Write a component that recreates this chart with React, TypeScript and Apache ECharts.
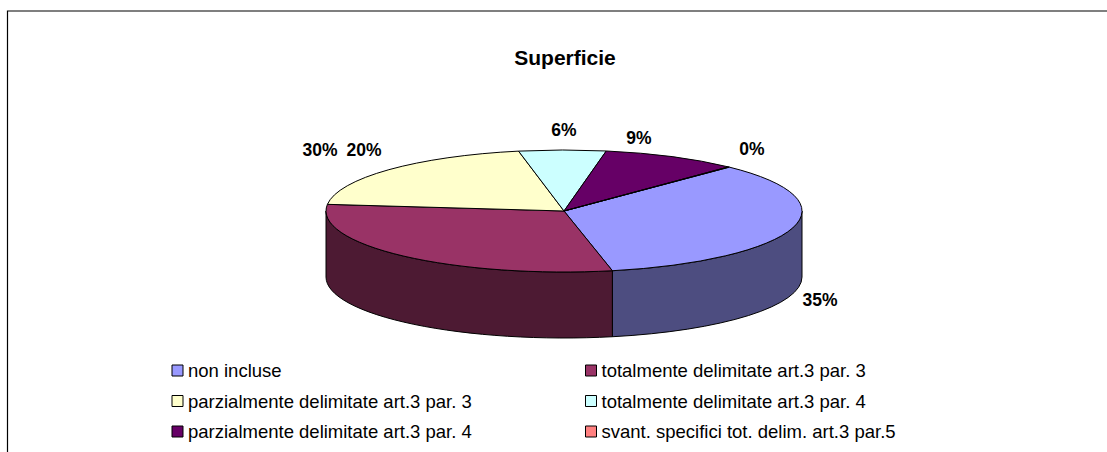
import React, { useEffect, useRef } from "react";
import * as echarts from "echarts";

const categories = [
  "non incluse",
  "totalmente delimitate art.3 par. 3",
  "parzialmente delimitate art.3 par. 3",
  "totalmente delimitate art.3 par. 4",
  "parzialmente delimitate art.3 par. 4",
  "svant. specifici tot. delim. art.3 par.5",
];
const shares = [34.52, 30, 20.2, 5.9, 9.3, 0.08];
const topColors = ["#9999FF", "#993366", "#FFFFCC", "#CCFFFF", "#660066", "#FF8080"];
const sideColors = ["#4D4D80", "#4D1A33", "#808066", "#668080", "#330033", "#804040"];
const titleText = "Superficie";
const labelSpots = [
  [820, 300],
  [320, 150],
  [364, 150],
  [564, 130],
  [639, 138],
  [752, 149],
];

const FONT = '"Liberation Sans", Arial, sans-serif';
const CX = 564;
const CY = 211;
const RX = 238;
const RY = 61;
const DEPTH = 66;
const START = 44;

const total = shares.reduce((a, b) => a + b, 0);
const pt = (deg: number, dy = 0) => {
  const r = (deg * Math.PI) / 180;
  return [CX + RX * Math.sin(r), CY - RY * Math.cos(r) + dy];
};
const f = (n: number) => n.toFixed(2);

function topPath(a0: number, a1: number) {
  const p0 = pt(a0);
  const p1 = pt(a1);
  const large = a1 - a0 > 180 ? 1 : 0;
  return `M${CX} ${CY}L${f(p0[0])} ${f(p0[1])}A${RX} ${RY} 0 ${large} 1 ${f(p1[0])} ${f(p1[1])}Z`;
}

function sidePath(a0: number, a1: number) {
  const s = Math.max(a0, 90);
  const e = Math.min(a1, 270);
  if (e <= s) return null;
  const p0 = pt(s);
  const p1 = pt(e);
  const q1 = pt(e, DEPTH);
  const q0 = pt(s, DEPTH);
  return (
    `M${f(p0[0])} ${f(p0[1])}A${RX} ${RY} 0 0 1 ${f(p1[0])} ${f(p1[1])}` +
    `L${f(q1[0])} ${f(q1[1])}A${RX} ${RY} 0 0 0 ${f(q0[0])} ${f(q0[1])}Z`
  );
}

let acc = START;
const spans = shares.map((v) => {
  const a0 = acc;
  acc += (v / total) * 360;
  return [a0, acc];
});

export default function App() {
  const ref = useRef<HTMLDivElement>(null);
  useEffect(() => {
    const chart = echarts.init(ref.current!, undefined, { renderer: "svg" });
    const legendBase = {
      orient: "vertical",
      top: 361,
      itemGap: 11.5,
      itemWidth: 11,
      itemHeight: 11,
      icon: "rect",
      selectedMode: false,
      padding: 0,
      itemStyle: { borderColor: "#000", borderWidth: 1 },
      textStyle: { fontFamily: FONT, fontSize: 18.5, color: "#000" },
    };
    chart.setOption({
      animation: false,
      backgroundColor: "#fff",
      title: {
        text: titleText,
        left: 560,
        top: 42,
        textAlign: "center",
        textStyle: { fontFamily: FONT, fontSize: 21, fontWeight: "bold", color: "#000" },
      },
      legend: [
        { ...legendBase, left: 171.5, data: [categories[0], categories[2], categories[4]] },
        { ...legendBase, left: 585, data: [categories[1], categories[3], categories[5]] },
      ],
      graphic: [
        {
          type: "rect",
          silent: true,
          z: -10,
          shape: { x: 7.5, y: 11, width: 1200, height: 600 },
          style: { fill: "#fff", stroke: "#000", lineWidth: 1.2 },
        },
      ],
      series: categories.map((name, i) => ({
        type: "custom",
        name,
        coordinateSystem: "none",
        clip: false,
        itemStyle: { color: topColors[i] },
        data: [shares[i]],
        renderItem: () => {
          const [a0, a1] = spans[i];
          const children: any[] = [];
          const side = sidePath(a0, a1);
          if (side) {
            children.push({
              type: "path",
              shape: { pathData: side },
              style: { fill: sideColors[i], stroke: "#000", lineWidth: 1 },
            });
          }
          children.push({
            type: "path",
            shape: { pathData: topPath(a0, a1) },
            style: { fill: topColors[i], stroke: "#000", lineWidth: 1 },
          });
          children.push({
            type: "text",
            style: {
              text: `${Math.round((shares[i] / total) * 100)}%`,
              x: labelSpots[i][0],
              y: labelSpots[i][1],
              align: "center",
              verticalAlign: "middle",
              font: `bold 17.5px ${FONT}`,
              fill: "#000",
            },
          });
          return { type: "group", children };
        },
      })),
    } as any);
    return () => chart.dispose();
  }, []);
  return (
    <div
      ref={ref}
      style={{ position: "absolute", left: 0, top: 0, width: 1107, height: 452 }}
    />
  );
}
